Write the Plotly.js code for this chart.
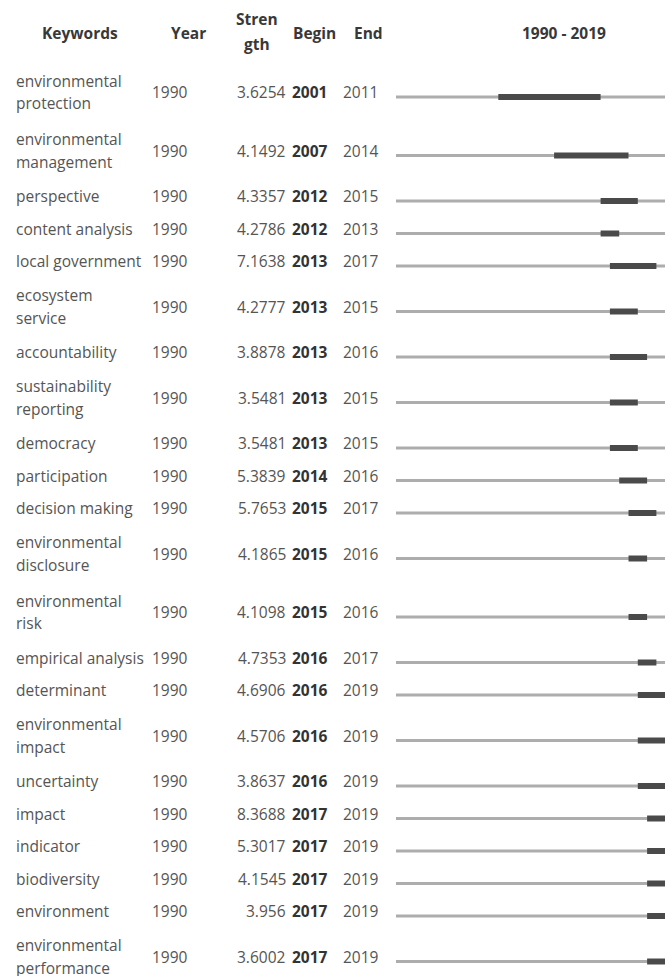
<!DOCTYPE html>
<html>
<head>
<meta charset="utf-8">
<script src="https://cdn.plot.ly/plotly-3.0.1.min.js"></script>
<style>html,body{margin:0;padding:0;background:#fff;}#chart{width:665px;height:976px;}</style>
</head>
<body>
<div id="chart"></div>
<script>
// ---- data ----
const keywords = ["environmental<br>protection", "environmental<br>management", "perspective", "content analysis",
  "local government", "ecosystem<br>service", "accountability", "sustainability<br>reporting", "democracy",
  "participation", "decision making", "environmental<br>disclosure", "environmental<br>risk", "empirical analysis",
  "determinant", "environmental<br>impact", "uncertainty", "impact", "indicator", "biodiversity", "environment",
  "environmental<br>performance"];
const years = [1990, 1990, 1990, 1990, 1990, 1990, 1990, 1990, 1990, 1990, 1990,
  1990, 1990, 1990, 1990, 1990, 1990, 1990, 1990, 1990, 1990, 1990];
const strengths = ["3.6254", "4.1492", "4.3357", "4.2786", "7.1638", "4.2777", "3.8878", "3.5481", "3.5481",
  "5.3839", "5.7653", "4.1865", "4.1098", "4.7353", "4.6906", "4.5706", "3.8637", "8.3688", "5.3017",
  "4.1545", "3.956", "3.6002"];
const begins = [2001, 2007, 2012, 2012, 2013, 2013, 2013, 2013, 2013, 2014, 2015,
  2015, 2015, 2016, 2016, 2016, 2016, 2017, 2017, 2017, 2017, 2017];
const ends = [2011, 2014, 2015, 2013, 2017, 2015, 2016, 2015, 2015, 2016, 2017,
  2016, 2016, 2017, 2019, 2019, 2019, 2019, 2019, 2019, 2019, 2019];
const periodStart = 1990;
const periodEnd = 2019;
const headers = {keywords: "Keywords", year: "Year", strength: ["Stren", "gth"], begin: "Begin", end: "End"};

// ---- layout helpers ----
const W = 665, H = 976;
const tableTop = 67.75, singleH = 32.5, doubleH = 58.5;
const rowY = [];
let cur = tableTop;
keywords.forEach(k => {
  const h = k.includes("<br>") ? doubleH : singleH;
  rowY.push(cur + h / 2);
  cur += h;
});

// timeline traces
const gx = [], gy = [], dx = [], dy = [];
keywords.forEach((k, i) => {
  gx.push(periodStart, periodEnd + 1, null); gy.push(rowY[i], rowY[i], null);
  dx.push(begins[i], ends[i] + 1, null); dy.push(rowY[i], rowY[i], null);
});
const traces = [
  {type: "scatter", mode: "lines", x: gx, y: gy, line: {color: "#adadad", width: 3}, hoverinfo: "skip", showlegend: false},
  {type: "scatter", mode: "lines", x: dx, y: dy, line: {color: "#4a4a4a", width: 6}, hoverinfo: "skip", showlegend: false}
];

const font = "Open Sans, Noto Sans, sans-serif";
const txtColor = "#555555";
const fs = 15.5;
const ann = [];
function A(text, px, y, anchor, opts) {
  ann.push(Object.assign({
    text: text, x: px / W, xref: "paper", y: y, yref: "y", xanchor: anchor, yanchor: "middle",
    showarrow: false, font: {family: font, size: fs, color: txtColor}
  }, opts || {}));
}
const hfont = {family: font, size: fs, color: "#383838", weight: 700};
A(headers.keywords, 80, 33, "center", {font: hfont});
A(headers.year, 188, 33, "center", {font: hfont});
A(headers.strength[0], 257, 19, "center", {font: hfont});
A(headers.strength[1], 257, 44, "center", {font: hfont});
A(headers.begin, 314, 33, "center", {font: hfont});
A(headers.end, 368, 33, "center", {font: hfont});
A(periodStart + " - " + periodEnd, 564, 33, "center", {font: hfont});

const off = -5;
keywords.forEach((k, i) => {
  const y = rowY[i];
  const parts = k.split("<br>");
  if (parts.length === 1) {
    A(parts[0], 14, y + off, "left");
  } else {
    A(parts[0], 14, y + off - 11.5, "left");
    A(parts[1], 14, y + off + 11, "left");
  }
  A(String(years[i]), 150, y + off, "left");
  A(strengths[i], 288, y + off, "right");
  A(String(begins[i]), 290, y + off, "left", {font: {family: font, size: fs, color: "#333", weight: 700}});
  A(String(ends[i]), 341, y + off, "left");
});

const pxPerYear = 9.3, x0px = 396;
const layout = {
  width: W, height: H,
  margin: {l: 0, r: 0, t: 0, b: 0, pad: 0},
  paper_bgcolor: "#fff", plot_bgcolor: "rgba(0,0,0,0)",
  xaxis: {domain: [x0px / W, 1], range: [periodStart, periodStart + (W - x0px) / pxPerYear],
    visible: false, fixedrange: true},
  yaxis: {domain: [0, 1], range: [H, 0], visible: false, fixedrange: true},
  annotations: ann,
  showlegend: false
};
Plotly.newPlot("chart", traces, layout, {staticPlot: true, displayModeBar: false});
</script>
</body>
</html>
